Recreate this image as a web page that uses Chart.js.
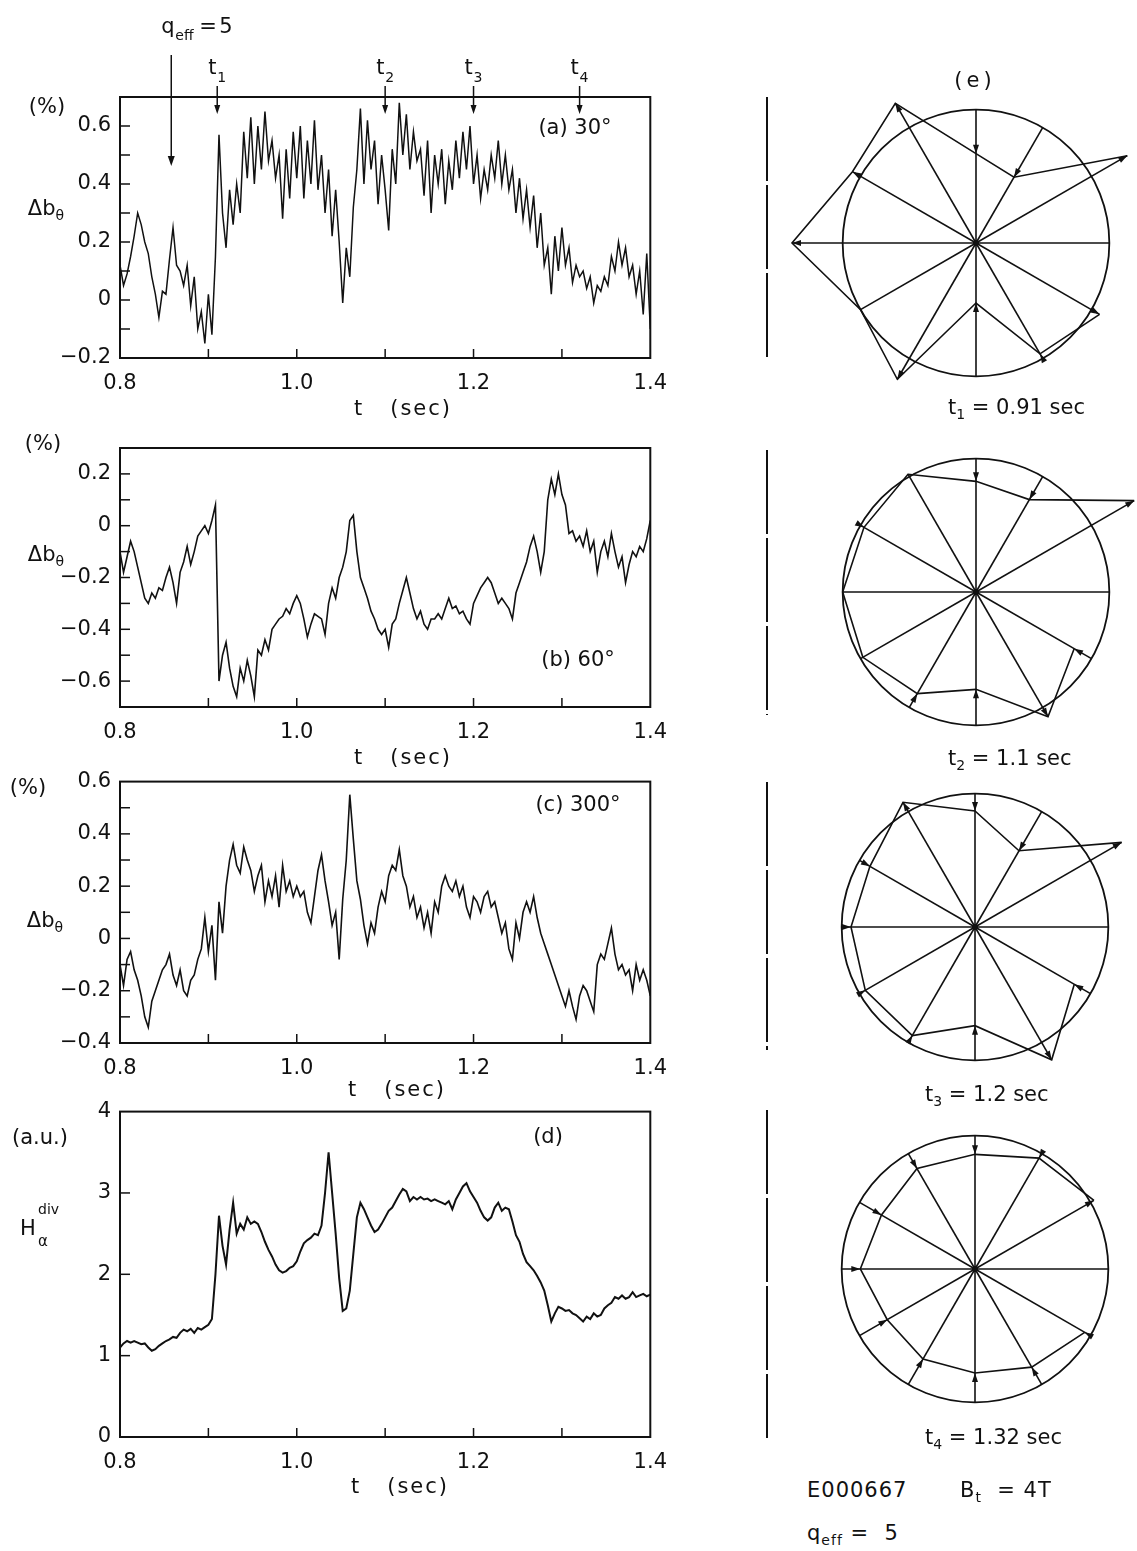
<!DOCTYPE html>
<html>
<head>
<meta charset="utf-8">
<script src="https://cdn.jsdelivr.net/npm/chart.js@4.4.0/dist/chart.umd.min.js"></script>
<style>
body{margin:0;width:1137px;height:1551px;overflow:hidden;background:#fff;color:#111;font-family:"DejaVu Sans",sans-serif;}
.pane{position:absolute;}
.t{position:absolute;font-size:21px;line-height:1;white-space:nowrap;}
.c{transform:translate(-50%,-50%);}
.l{transform:translateY(-50%);}
sub{font-size:14px;vertical-align:-5px;line-height:0;}
.vl{position:absolute;left:766px;width:2px;background:repeating-linear-gradient(to bottom,#111 0 84px,transparent 84px 88px);}
</style>
</head>
<body>

<div class="pane" style="left:0;top:0;width:680px;height:420px"><canvas id="pa"></canvas></div>
<div class="pane" style="left:0;top:420px;width:680px;height:360px"><canvas id="pb"></canvas></div>
<div class="pane" style="left:0;top:760px;width:680px;height:340px"><canvas id="pc"></canvas></div>
<div class="pane" style="left:0;top:1090px;width:680px;height:461px"><canvas id="pd"></canvas></div>

<div class="pane" style="left:776px;top:43px;width:400px;height:400px"><canvas id="e1"></canvas></div>
<div class="pane" style="left:776px;top:392px;width:400px;height:400px"><canvas id="e2"></canvas></div>
<div class="pane" style="left:775px;top:727px;width:400px;height:400px"><canvas id="e3"></canvas></div>
<div class="pane" style="left:775px;top:1069px;width:400px;height:400px"><canvas id="e4"></canvas></div>

<div class="vl" style="top:97px;height:263px"></div>
<div class="vl" style="top:450px;height:265px"></div>
<div class="vl" style="top:782px;height:268px"></div>
<div class="vl" style="top:1110px;height:328px"></div>

<!-- axis titles -->
<div class="t c" style="left:47px;top:106px">(%)</div>
<div class="t c" style="left:46px;top:208px">Δb<sub>θ</sub></div>
<div class="t c" style="left:43px;top:443px">(%)</div>
<div class="t c" style="left:46px;top:554px">Δb<sub>θ</sub></div>
<div class="t c" style="left:28px;top:787px">(%)</div>
<div class="t c" style="left:45px;top:920px">Δb<sub>θ</sub></div>
<div class="t c" style="left:40px;top:1137px">(a.u.)</div>
<div class="t" style="left:20px;top:1218px">H</div>
<div class="t" style="left:38px;top:1202px;font-size:14px">div</div>
<div class="t" style="left:38px;top:1234px;font-size:15px">α</div>

<div class="t c" style="left:403px;top:408px;letter-spacing:2px">t&nbsp;&nbsp;&nbsp;(sec)</div>
<div class="t c" style="left:403px;top:757px;letter-spacing:2px">t&nbsp;&nbsp;&nbsp;(sec)</div>
<div class="t c" style="left:397px;top:1089px;letter-spacing:2px">t&nbsp;&nbsp;&nbsp;(sec)</div>
<div class="t c" style="left:400px;top:1486px;letter-spacing:2px">t&nbsp;&nbsp;&nbsp;(sec)</div>

<div class="t c" style="left:575px;top:127px">(a) 30°</div>
<div class="t c" style="left:578px;top:659px">(b) 60°</div>
<div class="t c" style="left:578px;top:804px">(c) 300°</div>
<div class="t c" style="left:548px;top:1136px">(d)</div>

<div class="t c" style="left:975px;top:80px;letter-spacing:4px">(e)</div>
<div class="t l" style="left:948px;top:407px">t<sub>1</sub> = 0.91 sec</div>
<div class="t l" style="left:948px;top:758px">t<sub>2</sub> = 1.1 sec</div>
<div class="t l" style="left:925px;top:1094px">t<sub>3</sub> = 1.2 sec</div>
<div class="t l" style="left:925px;top:1437px">t<sub>4</sub> = 1.32 sec</div>
<div class="t l" style="left:807px;top:1490px;letter-spacing:1px">E000667</div>
<div class="t l" style="left:960px;top:1490px;letter-spacing:1px">B<sub>t</sub> &nbsp;= 4T</div>
<div class="t l" style="left:807px;top:1533px;letter-spacing:1px">q<sub>eff</sub> = &nbsp;5</div>

<script>
var ink = '#111';

// sampling times (sec)
var times = [
  0.800,0.804,0.808,0.812,0.816,0.820,0.824,0.828,0.832,0.836,
  0.840,0.844,0.848,0.852,0.856,0.860,0.864,0.868,0.872,0.876,
  0.880,0.884,0.888,0.892,0.896,0.900,0.904,0.908,0.912,0.916,
  0.920,0.924,0.928,0.932,0.936,0.940,0.944,0.948,0.952,0.956,
  0.960,0.964,0.968,0.972,0.976,0.980,0.984,0.988,0.992,0.996,
  1.000,1.004,1.008,1.012,1.016,1.020,1.024,1.028,1.032,1.036,
  1.040,1.044,1.048,1.052,1.056,1.060,1.064,1.068,1.072,1.076,
  1.080,1.084,1.088,1.092,1.096,1.100,1.104,1.108,1.112,1.116,
  1.120,1.124,1.128,1.132,1.136,1.140,1.144,1.148,1.152,1.156,
  1.160,1.164,1.168,1.172,1.176,1.180,1.184,1.188,1.192,1.196,
  1.200,1.204,1.208,1.212,1.216,1.220,1.224,1.228,1.232,1.236,
  1.240,1.244,1.248,1.252,1.256,1.260,1.264,1.268,1.272,1.276,
  1.280,1.284,1.288,1.292,1.296,1.300,1.304,1.308,1.312,1.316,
  1.320,1.324,1.328,1.332,1.336,1.340,1.344,1.348,1.352,1.356,
  1.360,1.364,1.368,1.372,1.376,1.380,1.384,1.388,1.392,1.396,1.400
];

// (a) delta b_theta at 30 deg (%)
var bTheta30 = [
  0.12,0.05,0.09,0.15,0.22,0.30,0.26,0.20,0.16,0.08,
  0.02,-0.06,0.03,0.02,0.14,0.25,0.12,0.10,0.05,0.12,
  -0.02,0.08,-0.10,-0.04,-0.15,0.02,-0.12,0.15,0.57,0.30,
  0.18,0.38,0.26,0.40,0.30,0.58,0.42,0.63,0.40,0.60,
  0.45,0.65,0.48,0.55,0.42,0.50,0.28,0.52,0.35,0.58,
  0.42,0.60,0.35,0.55,0.40,0.62,0.38,0.50,0.30,0.45,
  0.22,0.38,0.20,-0.01,0.18,0.08,0.32,0.45,0.66,0.40,
  0.62,0.45,0.55,0.33,0.50,0.38,0.24,0.52,0.40,0.68,
  0.50,0.64,0.45,0.58,0.48,0.52,0.36,0.55,0.30,0.50,
  0.40,0.52,0.33,0.48,0.38,0.55,0.42,0.58,0.45,0.60,
  0.40,0.50,0.35,0.45,0.38,0.50,0.42,0.55,0.40,0.50,
  0.38,0.45,0.30,0.42,0.28,0.38,0.25,0.36,0.18,0.30,
  0.12,0.18,0.02,0.22,0.10,0.25,0.12,0.18,0.06,0.12,
  0.08,0.10,0.04,0.08,-0.01,0.05,0.03,0.08,0.05,0.15,
  0.10,0.20,0.12,0.18,0.08,0.12,0.02,0.10,-0.05,0.16,-0.10
];

// (b) delta b_theta at 60 deg (%)
var bTheta60 = [
  -0.10,-0.18,-0.12,-0.06,-0.10,-0.16,-0.22,-0.28,-0.30,-0.26,
  -0.28,-0.24,-0.25,-0.20,-0.16,-0.22,-0.30,-0.18,-0.14,-0.08,
  -0.15,-0.10,-0.04,-0.02,0.00,-0.03,0.02,0.08,-0.60,-0.50,
  -0.45,-0.55,-0.62,-0.66,-0.55,-0.60,-0.52,-0.58,-0.66,-0.48,
  -0.50,-0.44,-0.48,-0.40,-0.38,-0.36,-0.35,-0.32,-0.34,-0.30,
  -0.27,-0.30,-0.36,-0.43,-0.38,-0.34,-0.35,-0.36,-0.42,-0.30,
  -0.24,-0.28,-0.20,-0.16,-0.10,0.02,0.04,-0.10,-0.20,-0.24,
  -0.28,-0.33,-0.36,-0.40,-0.42,-0.40,-0.47,-0.38,-0.36,-0.30,
  -0.25,-0.20,-0.26,-0.32,-0.36,-0.33,-0.38,-0.40,-0.36,-0.36,
  -0.34,-0.36,-0.32,-0.28,-0.32,-0.31,-0.34,-0.33,-0.36,-0.38,
  -0.30,-0.27,-0.24,-0.22,-0.20,-0.22,-0.26,-0.30,-0.28,-0.30,
  -0.32,-0.36,-0.26,-0.22,-0.18,-0.14,-0.08,-0.04,-0.10,-0.18,
  -0.10,0.10,0.18,0.12,0.20,0.12,0.08,-0.03,-0.02,-0.06,
  -0.04,-0.08,-0.02,-0.10,-0.06,-0.18,-0.10,-0.06,-0.12,-0.03,
  -0.10,-0.16,-0.12,-0.22,-0.15,-0.10,-0.12,-0.08,-0.10,-0.05,0.02
];

// (c) delta b_theta at 300 deg (%)
var bTheta300 = [
  -0.10,-0.18,-0.08,-0.05,-0.12,-0.16,-0.22,-0.30,-0.34,-0.24,
  -0.20,-0.16,-0.12,-0.10,-0.06,-0.14,-0.18,-0.12,-0.20,-0.22,
  -0.16,-0.14,-0.08,-0.04,0.08,-0.05,0.05,-0.16,0.14,0.02,
  0.20,0.30,0.36,0.28,0.25,0.35,0.30,0.26,0.18,0.24,
  0.28,0.14,0.22,0.16,0.24,0.12,0.28,0.18,0.22,0.16,
  0.20,0.16,0.18,0.10,0.06,0.16,0.26,0.32,0.22,0.14,
  0.05,0.10,-0.08,0.15,0.30,0.55,0.38,0.22,0.15,0.05,
  -0.02,0.06,0.02,0.12,0.18,0.14,0.24,0.28,0.26,0.34,
  0.24,0.20,0.12,0.16,0.08,0.12,0.04,0.10,0.02,0.14,
  0.10,0.20,0.24,0.20,0.18,0.22,0.16,0.20,0.12,0.08,
  0.16,0.14,0.10,0.16,0.18,0.12,0.14,0.08,0.02,0.06,
  -0.04,-0.08,0.06,0.00,0.10,0.14,0.10,0.16,0.08,0.02,
  -0.02,-0.06,-0.10,-0.14,-0.18,-0.22,-0.26,-0.20,-0.26,-0.31,
  -0.22,-0.18,-0.20,-0.24,-0.28,-0.10,-0.06,-0.08,-0.02,0.04,
  -0.06,-0.12,-0.10,-0.14,-0.12,-0.20,-0.10,-0.16,-0.12,-0.16,-0.22
];

// (d) divertor H-alpha (a.u.)
var hAlphaDiv = [
  1.10,1.15,1.18,1.16,1.18,1.16,1.14,1.15,1.10,1.06,
  1.08,1.12,1.15,1.18,1.20,1.23,1.22,1.28,1.32,1.30,
  1.33,1.28,1.34,1.32,1.35,1.38,1.45,2.00,2.72,2.35,
  2.12,2.55,2.88,2.50,2.62,2.55,2.70,2.62,2.65,2.62,
  2.52,2.40,2.30,2.22,2.12,2.05,2.02,2.04,2.08,2.10,
  2.16,2.28,2.38,2.42,2.45,2.50,2.48,2.60,3.00,3.50,
  3.00,2.50,1.95,1.55,1.58,1.80,2.25,2.70,2.88,2.80,
  2.70,2.60,2.52,2.55,2.62,2.70,2.78,2.82,2.90,2.98,
  3.05,3.02,2.90,2.95,2.92,2.95,2.92,2.93,2.90,2.92,
  2.90,2.88,2.86,2.90,2.80,2.92,3.00,3.08,3.12,3.02,
  2.95,2.88,2.78,2.70,2.66,2.70,2.82,2.88,2.78,2.82,
  2.80,2.65,2.48,2.40,2.25,2.15,2.10,2.05,1.98,1.90,
  1.80,1.62,1.42,1.52,1.60,1.58,1.55,1.56,1.52,1.50,
  1.46,1.42,1.48,1.45,1.52,1.48,1.50,1.58,1.62,1.65,
  1.72,1.70,1.74,1.70,1.72,1.78,1.72,1.74,1.76,1.73,1.75
];

// tick labels
var xTicks = [0.8, 1.0, 1.2, 1.4];
var aTicks = [-0.2, 0, 0.2, 0.4, 0.6];
var bTicks = [-0.6, -0.4, -0.2, 0, 0.2];
var cTicks = [-0.4, -0.2, 0, 0.2, 0.4, 0.6];
var dTicks = [0, 1, 2, 3, 4];

// marked times on panel (a)
var qeffTime = 0.858;
var markerTimes = [0.91, 1.1, 1.2, 1.32];

// (e) relative amplitude on the 12 probes, clockwise from top (probe 3 missing)
var probeAngles = ['0', '30', '60', '90', '120', '150', '180', '210', '240', '270', '300', '330'];
var ringT1 = [0.67, 0.57, 1.31, null, 1.07, 0.96, 0.45, 1.18, 1.00, 1.38, 1.07, 1.21];
var ringT2 = [0.83, 0.80, 1.37, null, 0.85, 1.08, 0.73, 0.88, 0.98, 1.00, 0.97, 1.02];
var ringT3 = [0.87, 0.66, 1.27, null, 0.86, 1.15, 0.74, 0.94, 0.95, 0.93, 0.91, 1.08];
var ringT4 = [0.86, 0.96, 1.03, null, 0.95, 0.85, 0.78, 0.78, 0.76, 0.86, 0.81, 0.87];

Chart.defaults.font.family = '"DejaVu Sans", sans-serif';
Chart.defaults.font.size = 21;
Chart.defaults.color = ink;

function fmt(v) {
  if (Math.abs(v) < 1e-9) return '0';
  var s = Math.abs(v).toFixed(1);
  return v < 0 ? '\u2212' + s : s;
}

function inList(v, list) {
  for (var i = 0; i < list.length; i++) if (Math.abs(v - list[i]) < 1e-6) return true;
  return false;
}

function arrowHead(ctx, x, y, ux, uy, len, half) {
  ctx.beginPath();
  ctx.moveTo(x, y);
  ctx.lineTo(x - ux * len - uy * half, y - uy * len + ux * half);
  ctx.lineTo(x - ux * len + uy * half, y - uy * len - ux * half);
  ctx.closePath();
  ctx.fill();
}

// frame and inward tick marks
var boxPlugin = {
  id: 'box',
  afterDraw: function(c) {
    var a = c.chartArea, ctx = c.ctx;
    ctx.save();
    ctx.strokeStyle = ink;
    ctx.lineWidth = 2;
    ctx.strokeRect(a.left, a.top, a.right - a.left, a.bottom - a.top);
    ctx.lineWidth = 1.5;
    c.scales.x.ticks.forEach(function(t) {
      var px = c.scales.x.getPixelForValue(t.value);
      if (px < a.left + 2 || px > a.right - 2) return;
      ctx.beginPath(); ctx.moveTo(px, a.bottom); ctx.lineTo(px, a.bottom - 9); ctx.stroke();
    });
    c.scales.y.ticks.forEach(function(t) {
      var py = c.scales.y.getPixelForValue(t.value);
      if (py < a.top + 2 || py > a.bottom - 2) return;
      ctx.beginPath(); ctx.moveTo(a.left, py); ctx.lineTo(a.left + 10, py); ctx.stroke();
    });
    ctx.restore();
  }
};

// q_eff and t1..t4 arrows above panel (a)
var markerPlugin = {
  id: 'markers',
  afterDraw: function(c) {
    var ctx = c.ctx, x = c.scales.x;
    ctx.save();
    ctx.strokeStyle = ink; ctx.fillStyle = ink; ctx.lineWidth = 1.5;
    var qx = x.getPixelForValue(qeffTime);
    ctx.beginPath(); ctx.moveTo(qx, 55); ctx.lineTo(qx, 158); ctx.stroke();
    arrowHead(ctx, qx, 166, 0, 1, 10, 3.5);
    ctx.font = '21px "DejaVu Sans"';
    ctx.fillText('q', qx - 10, 33);
    ctx.font = '14px "DejaVu Sans"';
    ctx.fillText('eff', qx + 4, 40);
    ctx.font = '21px "DejaVu Sans"';
    ctx.fillText('=', qx + 28, 33);
    ctx.fillText('5', qx + 48, 33);
    markerTimes.forEach(function(t, i) {
      var px = x.getPixelForValue(t);
      ctx.font = '21px "DejaVu Sans"';
      ctx.fillText('t', px - 9, 74);
      ctx.font = '14px "DejaVu Sans"';
      ctx.fillText(String(i + 1), px, 82);
      ctx.beginPath(); ctx.moveTo(px, 86); ctx.lineTo(px, 106); ctx.stroke();
      arrowHead(ctx, px, 114, 0, 1, 9, 3);
    });
    ctx.restore();
  }
};

function seriesChart(id, vals, yMin, yMax, yStep, yLabels, padTop, xHeight, width, extra) {
  var pts = [];
  for (var i = 0; i < times.length; i++) pts.push({x: times[i], y: vals[i]});
  return new Chart(document.getElementById(id), {
    type: 'line',
    data: {datasets: [{data: pts, borderColor: ink, borderWidth: width, pointRadius: 0, tension: 0}]},
    options: {
      responsive: true,
      maintainAspectRatio: false,
      animation: false,
      layout: {padding: {top: padTop, right: 25, left: 0, bottom: 0}},
      plugins: {legend: {display: false}, tooltip: {enabled: false}},
      scales: {
        x: {
          type: 'linear', min: 0.8, max: 1.4,
          grid: {display: false, drawTicks: false},
          border: {display: false},
          ticks: {stepSize: 0.1, padding: 13, autoSkip: false, maxRotation: 0,
            callback: function(v) { return inList(v, xTicks) ? v.toFixed(1) : ''; }},
          afterFit: function(s) { s.height = xHeight; }
        },
        y: {
          min: yMin, max: yMax,
          grid: {display: false, drawTicks: false},
          border: {display: false},
          ticks: {stepSize: yStep, padding: 9, autoSkip: false,
            callback: function(v) { return inList(v, yLabels) ? (yStep >= 1 ? String(Math.round(v)) : fmt(v)) : ''; }},
          afterFit: function(s) { s.width = 120; }
        }
      }
    },
    plugins: [boxPlugin].concat(extra || [])
  });
}

seriesChart('pa', bTheta30, -0.2, 0.7, 0.1, aTicks, 97, 62, 1.5, [markerPlugin]);
seriesChart('pb', bTheta60, -0.7, 0.3, 0.1, bTicks, 28, 73, 1.6);
seriesChart('pc', bTheta300, -0.4, 0.6, 0.1, cTicks, 19, 57, 1.6);
seriesChart('pd', hAlphaDiv, 0, 4, 1, dTicks, 18, 114, 2);

// spokes, arrow heads and centre dot on the ring diagrams
var spokePlugin = {
  id: 'spokes',
  afterDraw: function(c) {
    var s = c.scales.r, ctx = c.ctx, vals = c.data.datasets[0].data;
    ctx.save();
    ctx.strokeStyle = ink; ctx.fillStyle = ink; ctx.lineWidth = 1.6;
    for (var i = 0; i < vals.length; i++) {
      var r = vals[i];
      var end = s.getPointPositionForValue(i, (r === null || r < 1) ? 1 : r);
      ctx.beginPath(); ctx.moveTo(s.xCenter, s.yCenter); ctx.lineTo(end.x, end.y); ctx.stroke();
      if (r !== null && Math.abs(r - 1) > 0.03) {
        var tip = s.getPointPositionForValue(i, r);
        var dx = end.x - s.xCenter, dy = end.y - s.yCenter, d = Math.sqrt(dx * dx + dy * dy);
        var sign = r > 1 ? 1 : -1;
        arrowHead(ctx, tip.x, tip.y, sign * dx / d, sign * dy / d, 9, 3);
      }
    }
    ctx.beginPath(); ctx.arc(s.xCenter, s.yCenter, 3, 0, Math.PI * 2); ctx.fill();
    ctx.restore();
  }
};

function ringChart(id, vals) {
  return new Chart(document.getElementById(id), {
    type: 'radar',
    data: {labels: probeAngles, datasets: [{data: vals, borderColor: ink, borderWidth: 1.6, fill: false, pointRadius: 0, spanGaps: false, tension: 0}]},
    options: {
      responsive: true,
      maintainAspectRatio: false,
      animation: false,
      layout: {padding: 0},
      plugins: {legend: {display: false}, tooltip: {enabled: false}},
      scales: {
        r: {
          min: 0, max: 1.5, startAngle: 0,
          angleLines: {display: false},
          pointLabels: {display: false},
          ticks: {display: false, stepSize: 1},
          grid: {circular: true, color: ink, lineWidth: 1.8},
          afterBuildTicks: function(s) { s.ticks = [{value: 0}, {value: 1}]; }
        }
      }
    },
    plugins: [spokePlugin]
  });
}

ringChart('e1', ringT1);
ringChart('e2', ringT2);
ringChart('e3', ringT3);
ringChart('e4', ringT4);
</script>
</body>
</html>
